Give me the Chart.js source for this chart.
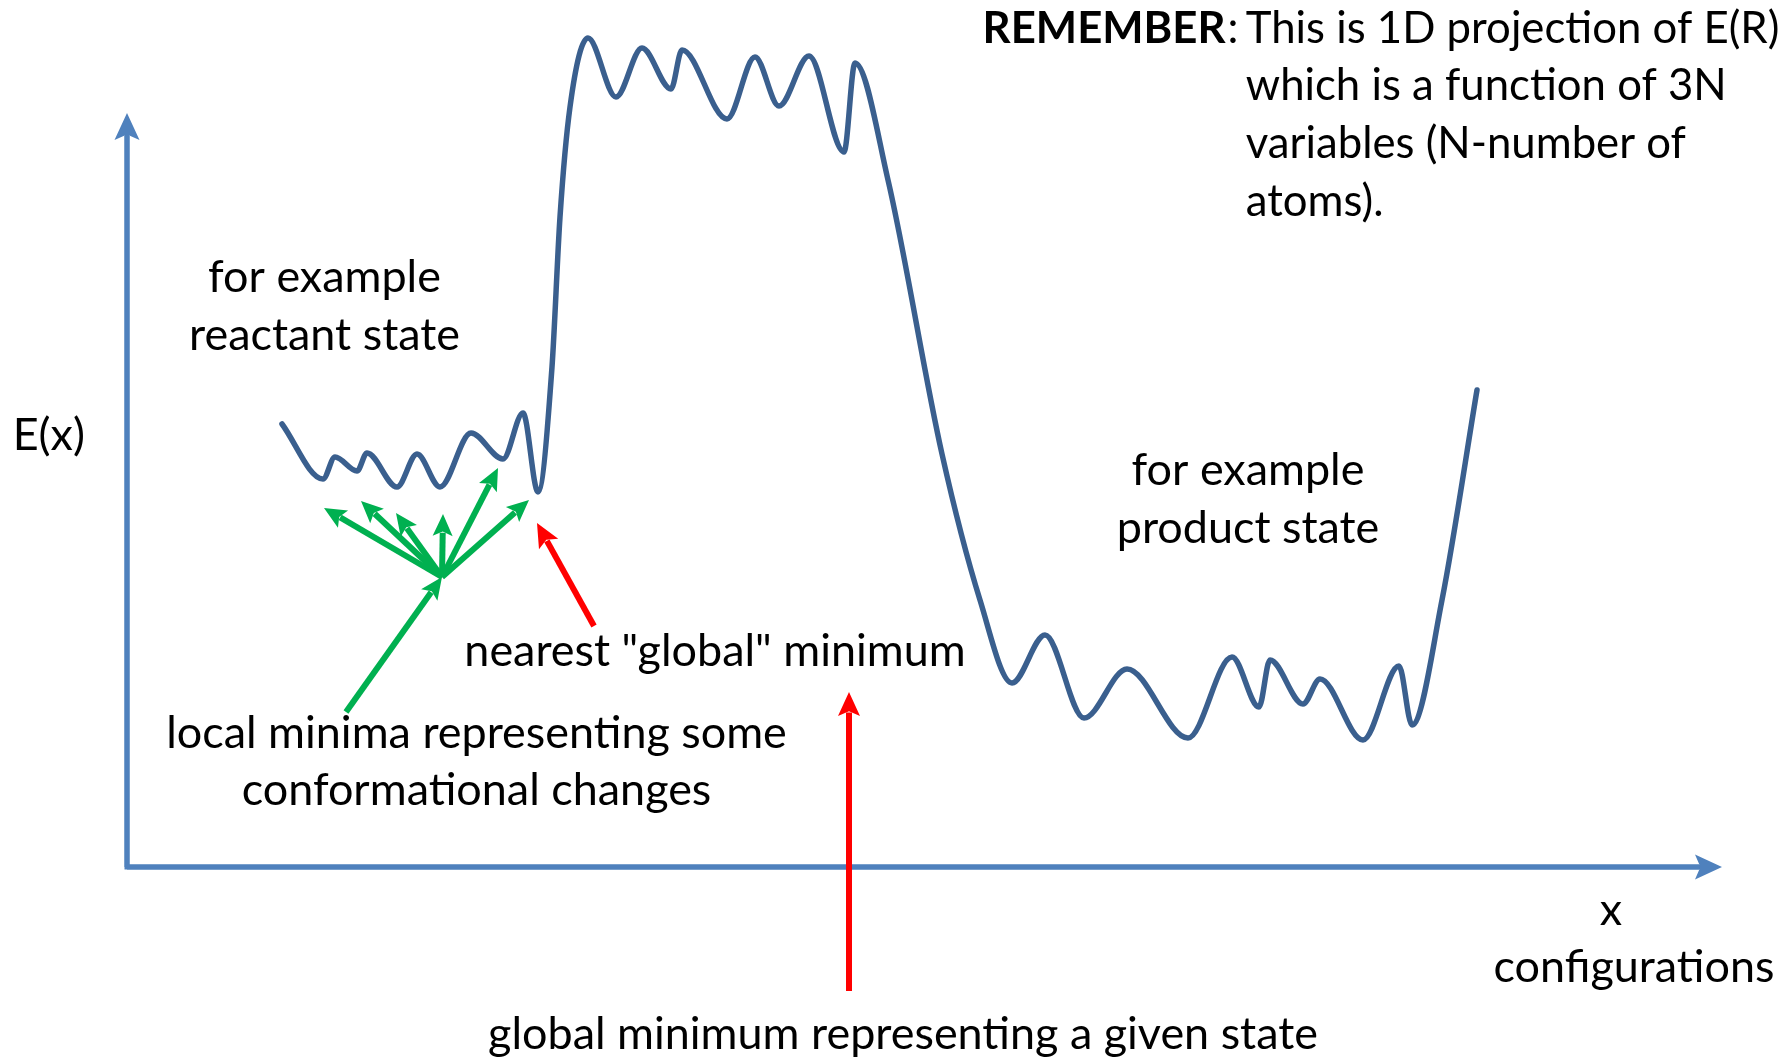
<!DOCTYPE html>
<html><head><meta charset="utf-8">
<script src="https://cdn.jsdelivr.net/npm/chart.js@4"></script>
<style>html,body{margin:0;padding:0;background:#fff}canvas{display:block}</style>
</head><body>
<canvas id="c" width="1779" height="1062"></canvas>
<script>
// Energy landscape E(x) along configurations x (arbitrary units)
const curveX = [155,196,208,230,240,270,290,313,344,376,396,411,425,433,443,461,489,515,544,555,600,628,652,682,717,728,761,815,853,885,918,957,1000,1061,1105,1132,1143,1176,1193,1236,1272,1285,1315,1350];
const curveY = [443,388,410,396,414,380,413,380,434,408,454,375,500,650,760,829,770,819,778,817,748,810,761,811,715,804,687,413,267,184,232,149,198,129,210,160,207,163,188,127,201,142,267,477];

// axis extents
const xAxisEnd = 1595;
const yAxisEnd = 754;

// annotation arrows (data units)
const localHub = [315,290];
const localTipsX = [197,234,269,316,371,402];
const localTipsY = [359,366,354,353,399,367];
const localTail = [219,155];
const nearestFrom = [467,241];
const nearestTo = [410,344];
const globalFrom = [722,-124];
const globalTo = [722,175];

const W = 1779, H = 1062;
const AXIS_COLOR = '#4F81BD';
const CURVE_COLOR = '#3A5F8E';
const GREEN = '#00B050';
const RED = '#FF0000';

const labels = [
  {t:'for example', x:324.5, y:278},
  {t:'reactant state', x:324.5, y:336},
  {t:'E(x)', x:48.8, y:436},
  {t:'for example', x:1248, y:471},
  {t:'product state', x:1248, y:529},
  {t:'nearest "global" minimum', x:715, y:652},
  {t:'local minima representing some', x:476.5, y:734},
  {t:'conformational changes', x:476.5, y:791},
  {t:'x', x:1611, y:911},
  {t:'configurations', x:1634, y:968},
  {t:'global minimum representing a given state', x:903, y:1035}
];
const remLines = ['This is 1D projection of E(R)','which is a function of 3N','variables (N-number of','atoms).'];
const remY = [28.4, 86.2, 144, 202];

function arrow(ctx, x1, y1, x2, y2, color, lw, hl, hw){
  const a = Math.atan2(y2-y1, x2-x1);
  const bx = x2 - Math.cos(a)*hl*0.85, by = y2 - Math.sin(a)*hl*0.85;
  ctx.save();
  ctx.strokeStyle = color; ctx.fillStyle = color; ctx.lineWidth = lw; ctx.lineCap='butt';
  ctx.beginPath(); ctx.moveTo(x1,y1); ctx.lineTo(bx,by); ctx.stroke();
  ctx.beginPath();
  ctx.moveTo(x2,y2);
  ctx.lineTo(x2 - Math.cos(a)*hl + Math.sin(a)*hw/2, y2 - Math.sin(a)*hl - Math.cos(a)*hw/2);
  ctx.lineTo(x2 - Math.cos(a)*hl*0.8, y2 - Math.sin(a)*hl*0.8);
  ctx.lineTo(x2 - Math.cos(a)*hl - Math.sin(a)*hw/2, y2 - Math.sin(a)*hl + Math.cos(a)*hw/2);
  ctx.closePath(); ctx.fill();
  ctx.restore();
}

const deco = {
  id:'deco',
  beforeDatasetsDraw(chart){
    const ctx = chart.ctx, xs = chart.scales.x, ys = chart.scales.y;
    const ox = xs.getPixelForValue(0), oy = ys.getPixelForValue(0);
    ctx.save();
    ctx.strokeStyle = AXIS_COLOR; ctx.lineWidth = 5; ctx.lineCap='butt'; ctx.lineJoin='miter';
    ctx.beginPath();
    ctx.moveTo(ox, ys.getPixelForValue(yAxisEnd)+10);
    ctx.lineTo(ox, oy);
    ctx.lineTo(xs.getPixelForValue(xAxisEnd)-10, oy);
    ctx.stroke();
    ctx.restore();
    arrow(ctx, ox, oy, ox, ys.getPixelForValue(yAxisEnd), AXIS_COLOR, 5, 27, 25);
    arrow(ctx, ox, oy, xs.getPixelForValue(xAxisEnd), oy, AXIS_COLOR, 5, 27, 25);
  },
  afterDatasetsDraw(chart){
    const ctx = chart.ctx, xs = chart.scales.x, ys = chart.scales.y;
    const px = v => xs.getPixelForValue(v), py = v => ys.getPixelForValue(v);
    const hx = px(localHub[0]), hy = py(localHub[1]);
    for (let i=0;i<localTipsX.length;i++){
      arrow(ctx, hx, hy, px(localTipsX[i]), py(localTipsY[i]), GREEN, 6, 22, 20);
    }
    arrow(ctx, px(localTail[0]), py(localTail[1]), hx, hy, GREEN, 6, 22, 20);
    arrow(ctx, px(nearestFrom[0]), py(nearestFrom[1]), px(nearestTo[0]), py(nearestTo[1]), RED, 6, 24, 22);
    arrow(ctx, px(globalFrom[0]), py(globalFrom[1]), px(globalTo[0]), py(globalTo[1]), RED, 6, 24, 22);

    // text
    ctx.save();
    ctx.fillStyle = '#000';
    ctx.textBaseline = 'middle';
    ctx.font = '40px Lato';
    const base = ctx.measureText('global minimum representing a given state').width;
    const size = 40 * 830 / base;
    ctx.font = size.toFixed(2) + 'px Lato';
    ctx.textAlign = 'center';
    labels.forEach(l => ctx.fillText(l.t, l.x, l.y));
    ctx.font = '40px Lato';
    const b2 = ctx.measureText('which is a function of 3N').width;
    const s2 = 40 * 481 / b2;
    ctx.textAlign = 'left';
    ctx.font = 'bold ' + s2.toFixed(2) + 'px Lato';
    ctx.fillText('REMEMBER', 982.6, remY[0]);
    const rw = ctx.measureText('REMEMBER').width;
    ctx.font = s2.toFixed(2) + 'px Lato';
    ctx.fillText(':', 982.6 + rw + 2, remY[0]);
    remLines.forEach((t,i) => ctx.fillText(t, 1245.8, remY[i]));
    ctx.restore();
  }
};

new Chart(document.getElementById('c'), {
  type:'line',
  data:{datasets:[{
    data: curveX.map((x,i)=>({x, y: curveY[i]})),
    borderColor: CURVE_COLOR, borderWidth: 5.5,
    cubicInterpolationMode:'monotone',
    pointRadius:0, fill:false, clip:false,
    borderCapStyle:'round', borderJoinStyle:'round'
  }]},
  options:{
    responsive:false, animation:false, devicePixelRatio:1,
    layout:{padding:{left:127, right:W-1722, top:0, bottom:H-867}},
    plugins:{legend:{display:false}, tooltip:{enabled:false}},
    scales:{
      x:{type:'linear', min:0, max:xAxisEnd, display:false},
      y:{type:'linear', min:0, max:867, display:false}
    }
  },
  plugins:[deco]
});
</script>
</body></html>
